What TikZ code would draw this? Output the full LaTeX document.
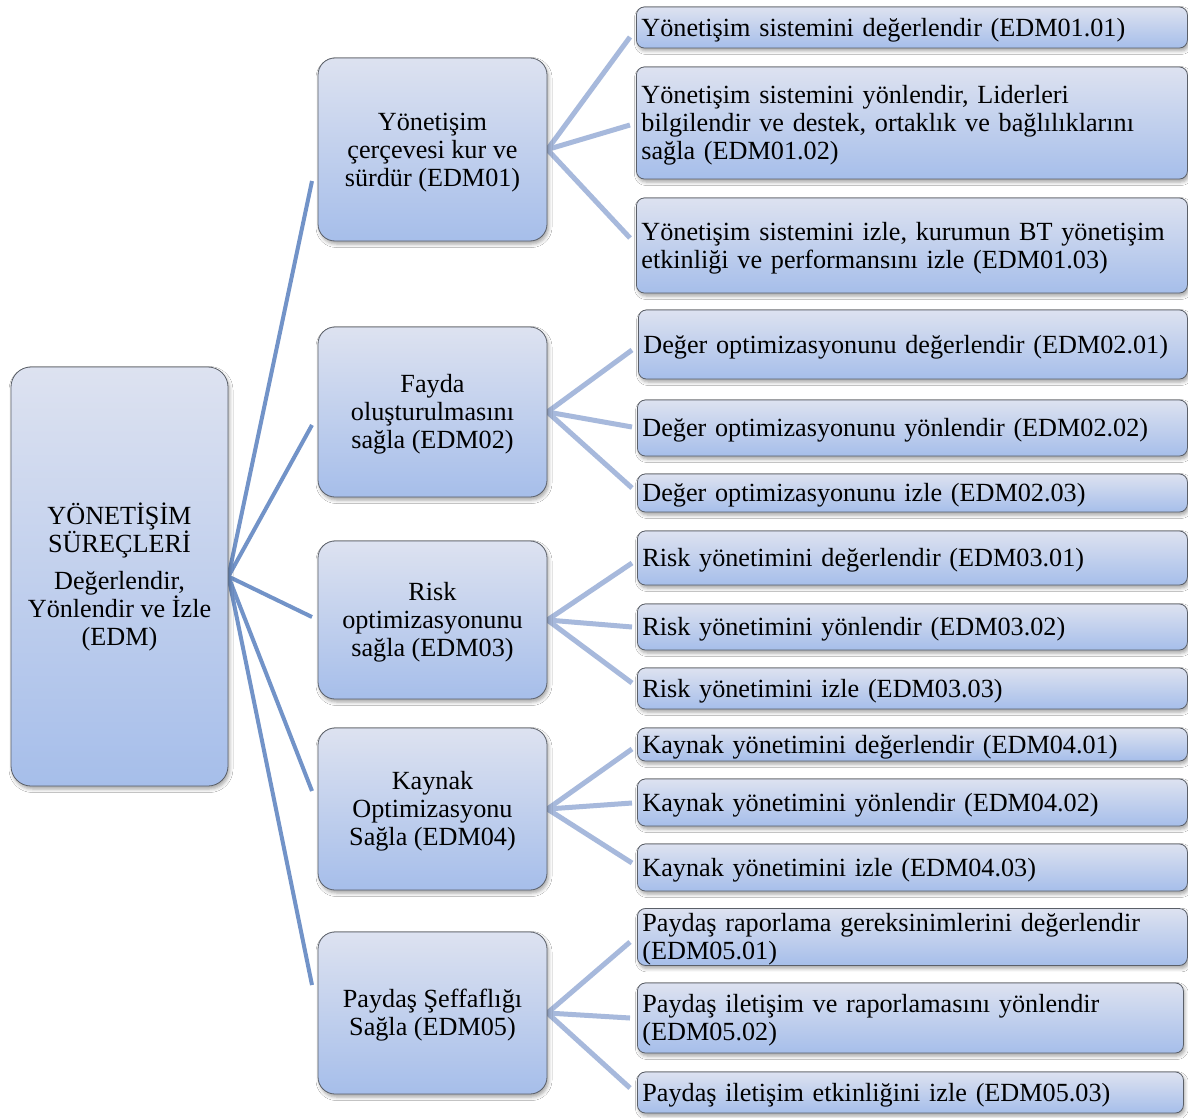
\documentclass[tikz,border=0pt]{standalone}
\usepackage{fontspec}
\setmainfont{Liberation Serif}
\usetikzlibrary{shadows.blur,backgrounds}

\definecolor{boxtop}{HTML}{DDE2F0}
\definecolor{boxbot}{HTML}{A6BEEA}
\definecolor{boxline}{HTML}{5A5F68}
\definecolor{trunk}{HTML}{7293C8}
\definecolor{twig}{HTML}{A7B9DC}

% strut with the font's full ascent, so text sits as in a word processor line
\newcommand{\ascstrut}{\rule{0pt}{0.891em}}

\tikzset{
  card/.style={rectangle, draw=boxline, line width=0.8pt,
    top color=boxtop, bottom color=boxbot,
    blur shadow={shadow xshift=1.5pt, shadow yshift=-3pt,
      shadow blur radius=3.5pt, shadow opacity=35},
    font=\fontsize{26.2}{28}\selectfont, text=black},
  rootbox/.style={card, rounded corners=20pt, align=center, inner sep=0pt},
  midbox/.style={card, rounded corners=17pt, align=center, inner sep=0pt},
  leafbox/.style={card, rounded corners=8pt, align=left, inner xsep=5pt, inner ysep=0pt},
  trunkline/.style={draw=trunk, line width=4pt},
  twigline/.style={draw=twig, line width=5pt},
}

% box given by its left, top, right and bottom edges (y grows downwards)
\newcommand{\centerbox}[7]{%
  \pgfmathsetmacro{\bxw}{#4-#2}\pgfmathsetmacro{\bxh}{#5-#3}%
  \pgfmathsetmacro{\bxx}{(#2+#4)/2}\pgfmathsetmacro{\bxy}{(#3+#5)/2}%
  \node[#6, minimum width=\bxw pt, minimum height=\bxh pt] (#1) at (\bxx,\bxy) {\ascstrut#7};}
\newcommand{\leaf}[6]{%
  \pgfmathsetmacro{\bxw}{#4-#2-10}\pgfmathsetmacro{\bxh}{#5-#3}%
  \pgfmathsetmacro{\bxy}{(#3+#5)/2}%
  \node[leafbox, text width=\bxw pt, minimum height=\bxh pt, anchor=west] (#1) at (#2,\bxy) {\ascstrut#6};}

\begin{document}
\begin{tikzpicture}[x=1pt, y=-1pt]
\useasboundingbox (0,0) rectangle (1188,1118);

% root
\centerbox{root}{11}{367}{228}{786}{rootbox}{YÖNETİŞİM\\SÜREÇLERİ\\[9pt]Değerlendir,\\Yönlendir ve İzle\\(EDM)}

% processes
\centerbox{p1}{318}{58}{547}{241}{midbox}{Yönetişim\\çerçevesi kur ve\\sürdür (EDM01)}
\centerbox{p2}{318}{327}{547}{497}{midbox}{Fayda\\oluşturulmasını\\sağla (EDM02)}
\centerbox{p3}{318}{541}{547}{699}{midbox}{Risk\\optimizasyonunu\\sağla (EDM03)}
\centerbox{p4}{318}{728}{547}{890}{midbox}{Kaynak\\Optimizasyonu\\Sağla (EDM04)}
\centerbox{p5}{318}{932}{547}{1094}{midbox}{Paydaş Şeffaflığı\\Sağla (EDM05)}

% practices
\leaf{c11}{636}{7}{1187}{48}{Yönetişim sistemini değerlendir (EDM01.01)}
\leaf{c12}{636}{67}{1187}{179}{Yönetişim sistemini yönlendir, Liderleri\\bilgilendir ve destek, ortaklık ve bağlılıklarını\\sağla (EDM01.02)}
\leaf{c13}{636}{198}{1187}{293}{Yönetişim sistemini izle, kurumun BT yönetişim\\etkinliği ve performansını izle (EDM01.03)}
\leaf{c21}{638}{310}{1187}{379}{Değer optimizasyonunu değerlendir (EDM02.01)}
\leaf{c22}{637}{400}{1187}{456}{Değer optimizasyonunu yönlendir (EDM02.02)}
\leaf{c23}{637}{474}{1187}{512}{Değer optimizasyonunu izle (EDM02.03)}
\leaf{c31}{637}{531}{1187}{585}{Risk yönetimini değerlendir (EDM03.01)}
\leaf{c32}{637}{604}{1187}{650}{Risk yönetimini yönlendir (EDM03.02)}
\leaf{c33}{637}{668}{1187}{709}{Risk yönetimini izle (EDM03.03)}
\leaf{c41}{637}{728}{1187}{761}{Kaynak yönetimini değerlendir (EDM04.01)}
\leaf{c42}{637}{779}{1187}{826}{Kaynak yönetimini yönlendir (EDM04.02)}
\leaf{c43}{637}{844}{1187}{891}{Kaynak yönetimini izle (EDM04.03)}
\leaf{c51}{637}{910}{1187}{964}{Paydaş raporlama gereksinimlerini değerlendir\\(EDM05.01)}
\leaf{c52}{637}{983}{1183}{1053}{Paydaş iletişim ve raporlamasını yönlendir\\(EDM05.02)}
\leaf{c53}{637}{1072}{1183}{1113}{Paydaş iletişim etkinliğini izle (EDM05.03)}

% connector ends
\coordinate (k1) at (312,181);
\coordinate (k2) at (312,425);
\coordinate (k3) at (312,617);
\coordinate (k4) at (312,791);
\coordinate (k5) at (312,985);
\coordinate (t11) at (630,37);  \coordinate (t12) at (630,125); \coordinate (t13) at (630,238);
\coordinate (t21) at (632,350); \coordinate (t22) at (632,427); \coordinate (t23) at (632,488);
\coordinate (t31) at (632,563); \coordinate (t32) at (632,627); \coordinate (t33) at (632,683);
\coordinate (t41) at (632,749); \coordinate (t42) at (632,803); \coordinate (t43) at (632,863);
\coordinate (t51) at (630,942); \coordinate (t52) at (630,1018); \coordinate (t53) at (630,1088);

\begin{scope}[on background layer]
  \fill[white] (0,0) rectangle (1188,1118);
  \foreach \i in {1,...,5} {\draw[trunkline] (root.east) -- (k\i);}
  \foreach \i in {1,...,5} {
    \foreach \j in {1,2,3} {\draw[twigline] (p\i.east) -- (t\i\j);}
  }
\end{scope}
\end{tikzpicture}
\end{document}
